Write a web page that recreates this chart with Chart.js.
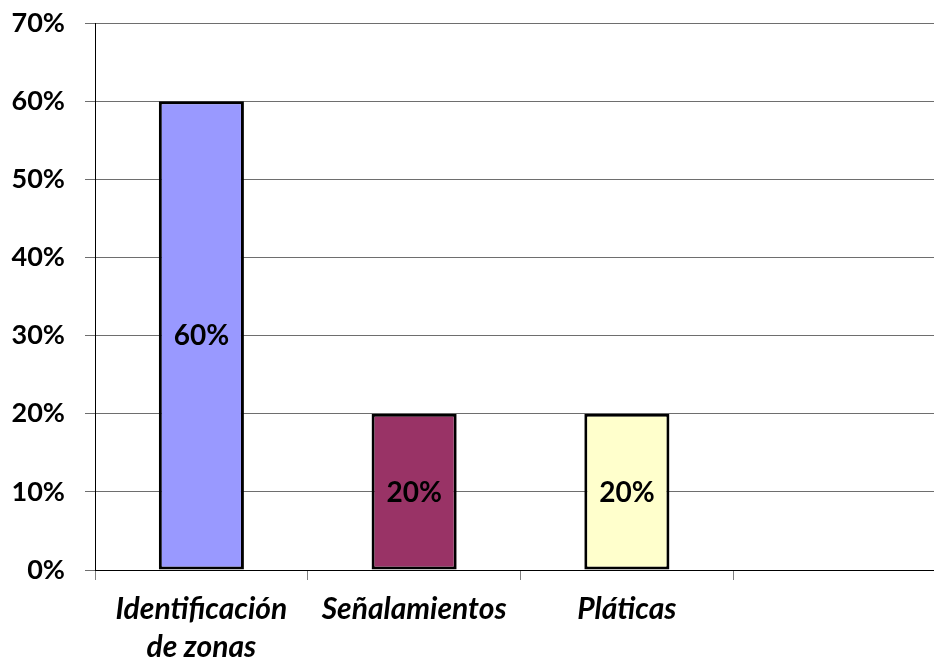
<!DOCTYPE html>
<html>
<head>
<meta charset="utf-8">
<script src="https://cdn.jsdelivr.net/npm/chart.js@4/dist/chart.umd.min.js"></script>
<style>
html,body{margin:0;padding:0;background:#fff;overflow:hidden;width:934px;height:659px;}
#wrap{width:946px;height:659px;position:relative;}
</style>
</head>
<body>
<div id="wrap"><canvas id="c"></canvas></div>
<script>
const categories = [["Identificación","de zonas"], "Señalamientos", "Pláticas", ""];
const values = [60, 20, 20, null];
const barColors = ["#9999FF", "#993366", "#FFFFCC", "#FFFFFF"];
const yTicks = [0, 10, 20, 30, 40, 50, 60, 70];

const FONT = "Lato, 'Open Sans', 'DejaVu Sans', sans-serif";
const W = "bold";

const valueLabels = {
  id: 'valueLabels',
  afterDatasetsDraw(chart) {
    const ctx = chart.ctx;
    const meta = chart.getDatasetMeta(0);
    ctx.save();
    ctx.font = W + " 28px " + FONT;
    ctx.fillStyle = "#000";
    ctx.textAlign = "center";
    ctx.textBaseline = "middle";
    meta.data.forEach((bar, i) => {
      const v = values[i];
      if (v == null) return;
      const y = (bar.y + bar.base) / 2;
      ctx.fillText(v + "%", bar.x, y + 1);
    });
    ctx.restore();
  }
};

new Chart(document.getElementById('c'), {
  type: 'bar',
  data: {
    labels: categories,
    datasets: [{
      data: values,
      backgroundColor: barColors,
      borderColor: "#000",
      borderWidth: 3,
      borderSkipped: false,
      barPercentage: 0.4,
      categoryPercentage: 1.0
    }]
  },
  options: {
    responsive: true,
    maintainAspectRatio: false,
    animation: false,
    devicePixelRatio: 1,
    layout: { padding: { top: 23, right: 0, left: 0, bottom: 0 } },
    plugins: { legend: { display: false }, tooltip: { enabled: false } },
    scales: {
      x: {
        offset: true,
        border: { display: true, color: "#000", width: 1 },
        grid: { offset: true, drawOnChartArea: false, drawTicks: true, tickLength: 10, color: "#808080", lineWidth: 1 },
        ticks: {
          color: "#000",
          font: { family: FONT, size: 30, weight: W, style: "italic", lineHeight: 1.27 },
          padding: 10,
          maxRotation: 0,
          autoSkip: false
        },
        afterFit(scale) { scale.height = 89; }
      },
      y: {
        min: 0, max: 70,
        border: { display: true, color: "#000", width: 1 },
        grid: { color: "#6e6e6e", lineWidth: 1, tickLength: 10, drawTicks: true },
        afterBuildTicks(scale) { scale.ticks = yTicks.map(v => ({ value: v })); },
        ticks: {
          color: "#000",
          font: { family: FONT, size: 27, weight: W },
          padding: 20,
          callback: v => v + "%"
        },
        afterFit(scale) { scale.width = 95; scale.paddingTop = 0; scale.paddingBottom = 0; }
      }
    }
  },
  plugins: [valueLabels]
});
</script>
</body>
</html>
